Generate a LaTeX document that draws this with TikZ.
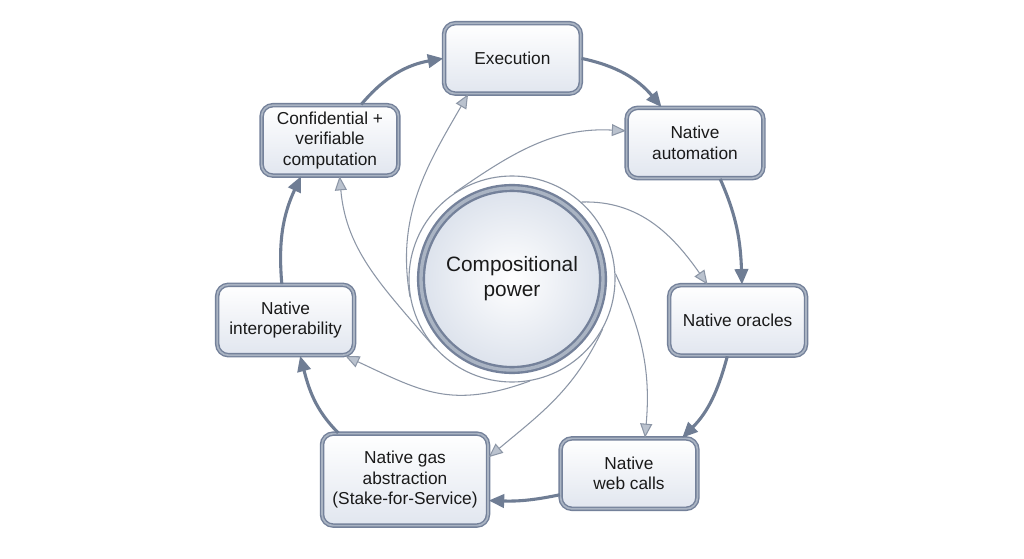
\documentclass[tikz,border=0pt]{standalone}
\usepackage{fontspec}
\setmainfont{Liberation Sans}
\usetikzlibrary{arrows.meta,shadows}
\definecolor{edgegray}{HTML}{74819A}
\definecolor{edgelight}{HTML}{AAB4C3}
\definecolor{boxfill}{HTML}{E1E6EF}
\definecolor{corefill}{HTML}{DCE2EC}
\definecolor{flowgray}{HTML}{6F7D94}
\definecolor{spokegray}{HTML}{8C96A6}
\definecolor{spokefill}{HTML}{BAC2CE}
\definecolor{inkblack}{HTML}{1A1A1A}
\begin{document}
\begin{tikzpicture}[>={Triangle[length=11pt,width=9.5pt]}, font=\fontsize{12.3}{14.5}\selectfont]
      \tikzset{box/.style={draw=edgegray, double=edgelight, double distance=1.2pt, line width=1pt, rounded corners=8pt, top color=white, bottom color=boxfill, minimum width=3.42cm, minimum height=1.76cm, align=center, text=inkblack, drop shadow={opacity=0.15, shadow xshift=0.6pt, shadow yshift=-1.2pt}},
        core/.style={circle, draw=edgegray, double=edgelight, double distance=2.4pt, line width=1.7pt, inner color=white, outer color=corefill, minimum size=4.55cm, align=center, text=inkblack, font=\fontsize{14.8}{17.8}\selectfont},
        ringline/.style={circle, draw=spokegray, line width=0.8pt, minimum size=5.15cm},
        loopflow/.style={->, draw=flowgray, line width=2.2pt},
        spoke/.style={-{Triangle[length=10pt,width=8.5pt,fill=spokefill]}, draw=spokegray, line width=0.75pt}}
      \useasboundingbox[fill=white] (0,0) rectangle (25.6,-13.975);
      \node[ringline] (ring) at (12.8,-6.975) {};
      \node[core] (core) at (12.8,-6.975) {Compositional\\power};
      \node[box] (exec) at (12.81,-1.46) {Execution};
      \node[box] (auto) at (17.375,-3.575) {Native\\automation};
      \node[box] (orac) at (18.44,-8.01) {Native oracles};
      \node[box] (web) at (15.725,-11.84) {Native\\web calls};
      \node[box, minimum width=4.15cm, minimum height=2.3cm] (gas) at (10.125,-11.99) {Native gas\\abstraction\\(Stake-for-Service)};
      \node[box] (inter) at (7.14,-8.0) {Native\\interoperability};
      \node[box] (conf) at (8.25,-3.51) {Confidential +\\verifiable\\computation};
      % outer cycle
      \draw[loopflow] (conf.49) to[out=50, in=190] (exec.west);
      \draw[loopflow] (exec.east) to[out=-12, in=130] (auto.133);
      \draw[loopflow] (auto.-55) to[out=-66, in=92] (orac.83);
      \draw[loopflow] (orac.-106) to[out=-105, in=45] (web.34);
      \draw[loopflow] (web.197) to[out=192, in=-2] (gas.-14);
      \draw[loopflow] (gas.145) to[out=135, in=-75] (inter.-68);
      \draw[loopflow] (inter.96) to[out=95, in=-115] (conf.231);
      % spokes from the core
      \draw[spoke] (ring.124) to[out=35, in=177] (auto.170);
      \draw[spoke] (ring.190) to[out=100, in=240] (exec.219);
      \draw[spoke] (ring.222) to[out=130, in=-85] (conf.-75);
      \draw[spoke] (ring.280) to[out=200, in=-25, looseness=1.15] (inter.-31);
      \draw[spoke] (ring.-29) to[out=-115, in=40] (gas.15);
      \draw[spoke] (ring.3) to[out=-65, in=85] (web.66);
      \draw[spoke] (ring.48) to[out=2, in=125] (orac.130);
\end{tikzpicture}
\end{document}
